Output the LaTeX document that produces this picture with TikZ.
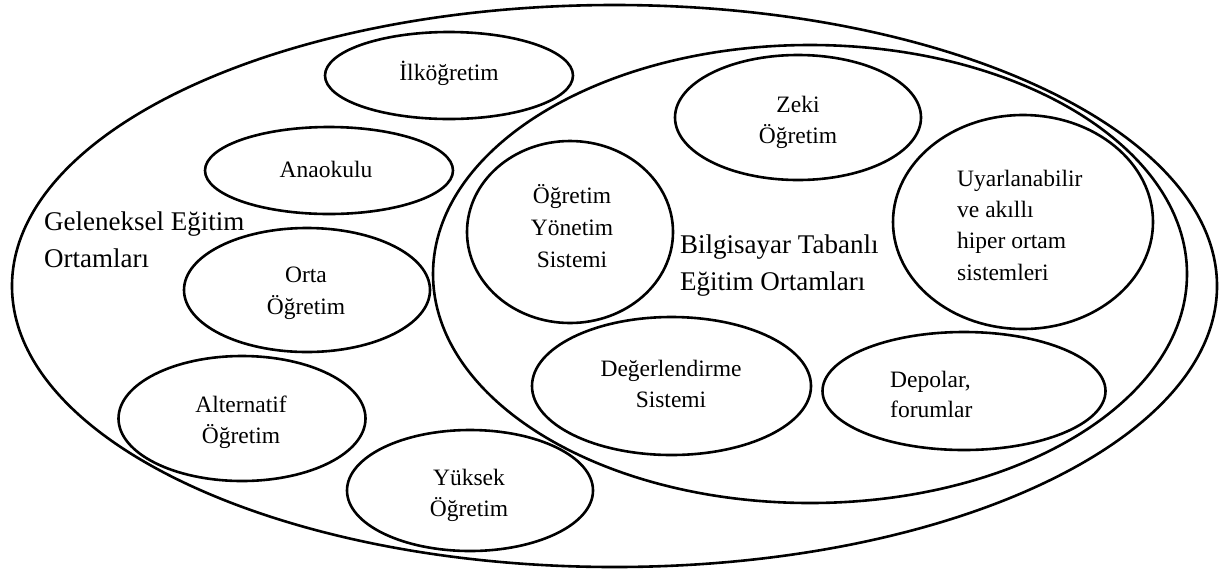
\documentclass[tikz,border=0pt]{standalone}
\usepackage{fontspec}
\setmainfont{Liberation Serif}
\usetikzlibrary{shapes.geometric}
\begin{document}
\begin{tikzpicture}[x=1pt,y=-1pt,
  ring/.style n args={2}{draw, line width=2.6pt, ellipse, inner sep=0pt,
    minimum width=#1pt, minimum height=#2pt},
  lbl/.style={font=\fontsize{23.5}{31}\selectfont, inner sep=0pt, anchor=base},
  lbll/.style={lbl, anchor=base west},
  big/.style={font=\fontsize{27}{37}\selectfont, inner sep=0pt, anchor=base west}]
\useasboundingbox (0,0) rectangle (1225,574);

% enclosing sets
\node[ring={1205}{562}] (outer) at (614.5,286) {};
\node[ring={754}{458}] (inner) at (810,274) {};

% traditional settings
\node[ring={248}{87}] (ilk) at (449,75.5) {};
\node[ring={248}{87}] (ana) at (329,170.5) {};
\node[ring={246}{124}] (orta) at (307,290) {};
\node[ring={247}{125}] (alt) at (242,418.5) {};
\node[ring={246}{121}] (yuk) at (470,490.5) {};

% computer based settings
\node[ring={246}{125}] (zeki) at (798,117.5) {};
\node[ring={206}{182}] (oys) at (570,232) {};
\node[ring={260}{214}] (uyar) at (1023,222) {};
\node[ring={279}{138}] (deg) at (671.5,386) {};
\node[ring={283}{118}] (dep) at (964,391) {};

% labels of the traditional settings
\node[lbl] (ilk1) at (449,80) {İlköğretim};
\node[lbl] (ana1) at (326,177) {Anaokulu};
\node[lbl] (orta1) at (306,282) {Orta};
\node[lbl] (orta2) at (306,314) {Öğretim};
\node[lbl] (alt1) at (241,412) {Alternatif};
\node[lbl] (alt2) at (241,443) {Öğretim};
\node[lbl] (yuk1) at (469,485) {Yüksek};
\node[lbl] (yuk2) at (469,516) {Öğretim};

% labels of the computer based settings
\node[lbl] (zeki1) at (798,112) {Zeki};
\node[lbl] (zeki2) at (798,143) {Öğretim};
\node[lbl] (oys1) at (572,203) {Öğretim};
\node[lbl] (oys2) at (572,235) {Yönetim};
\node[lbl] (oys3) at (572,267) {Sistemi};
\node[lbll] (uyar1) at (957,186) {Uyarlanabilir};
\node[lbll] (uyar2) at (957,217) {ve akıllı};
\node[lbll] (uyar3) at (957,248) {hiper ortam};
\node[lbll] (uyar4) at (957,280) {sistemleri};
\node[lbl] (deg1) at (671,376) {Değerlendirme};
\node[lbl] (deg2) at (671,407) {Sistemi};
\node[lbll] (dep1) at (890,387) {Depolar,};
\node[lbll] (dep2) at (890,417) {forumlar};

% set names
\node[big] (gen1) at (44,230) {Geleneksel Eğitim};
\node[big] (gen2) at (44,267) {Ortamları};
\node[big] (bil1) at (680,253) {Bilgisayar Tabanlı};
\node[big] (bil2) at (680,290) {Eğitim Ortamları};
\end{tikzpicture}
\end{document}
